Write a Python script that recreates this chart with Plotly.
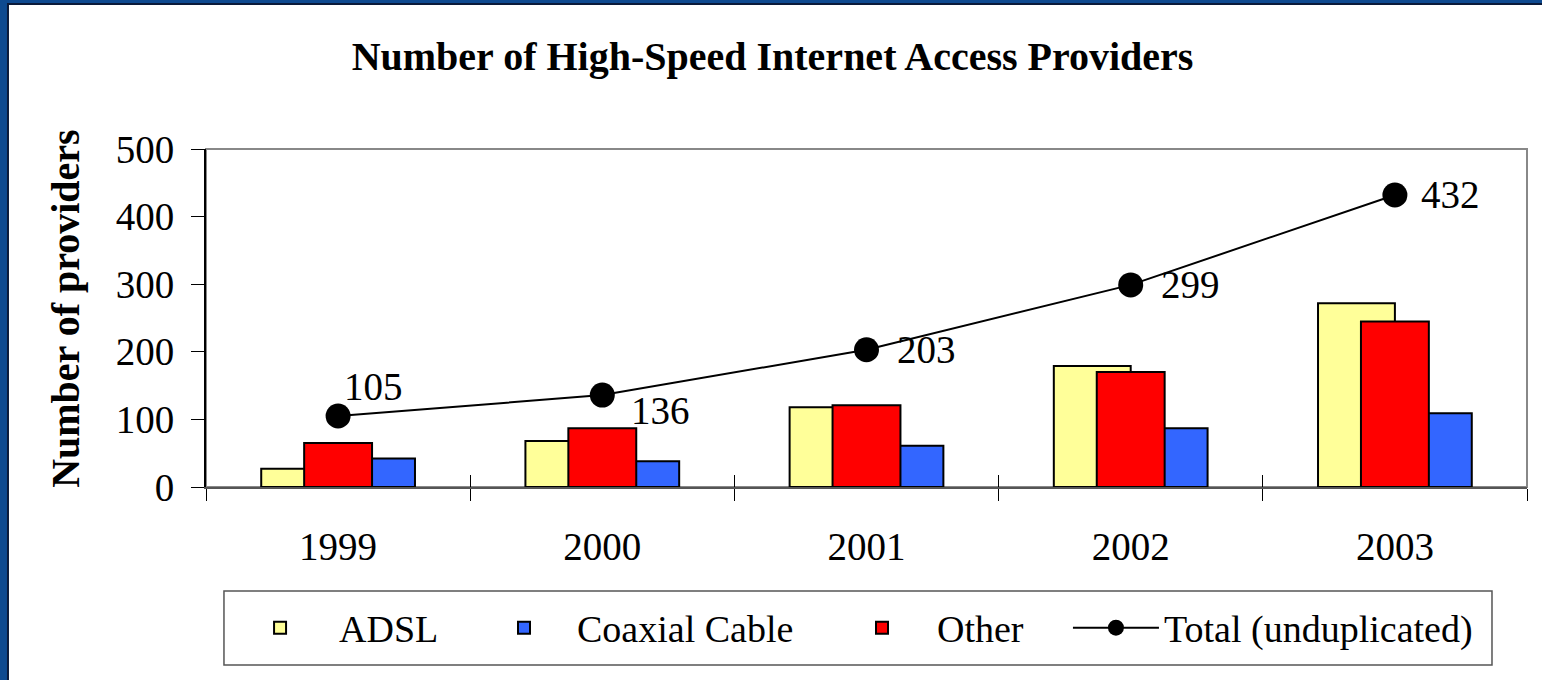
import plotly.graph_objects as go

years = ["1999", "2000", "2001", "2002", "2003"]
adsl = [27, 68, 118, 179, 272]
coax = [42, 38, 61, 87, 109]
other = [65, 87, 121, 170, 245]
total = [105, 136, 203, 299, 432]

# label offsets (px) for the total data labels
lab_dx = [35, 58, 60, 60, 56]
lab_dy = [30, -15, 0, 0, 0]

FONT = "Liberation Serif, Times New Roman, serif"
wide = 0.291
narrow = 0.257

fig = go.Figure()
fig.add_trace(go.Bar(x=years, y=adsl, name="ADSL", width=wide, offset=-wide, legend="legend",
                     marker=dict(color="#FFFF99", line=dict(color="black", width=2))))
fig.add_trace(go.Bar(x=years, y=coax, name="Coaxial Cable", width=wide, offset=0, legend="legend2",
                     marker=dict(color="#3366FF", line=dict(color="black", width=2))))
fig.add_trace(go.Bar(x=years, y=other, name="Other", width=narrow, offset=-narrow / 2, legend="legend3",
                     marker=dict(color="#FF0000", line=dict(color="black", width=2))))
fig.add_trace(go.Scatter(x=years, y=total, name="Total (unduplicated)", mode="lines+markers",
                         legend="legend4",
                         line=dict(color="black", width=2),
                         marker=dict(color="black", size=25)))

for i, (v, dx, dy) in enumerate(zip(total, lab_dx, lab_dy)):
    fig.add_annotation(x=i, y=v, xref="x", yref="y", text=str(v), showarrow=False,
                       xshift=dx, yshift=dy,
                       font=dict(family=FONT, size=39, color="black"))

# y-axis title
fig.add_annotation(xref="paper", yref="paper", x=-0.106, y=0.53, text="<b>Number of providers</b>",
                   textangle=-90, showarrow=False, xanchor="center", yanchor="middle",
                   font=dict(family=FONT, size=40, color="black"))

# slide white panel, plot border, legend box
fig.add_shape(type="rect", xref="paper", yref="paper", x0=-0.1499, x1=1.02, y0=-0.6, y1=1.429,
              fillcolor="white", line=dict(color="#0a1a3a", width=2), layer="below")
fig.add_shape(type="rect", xref="paper", yref="paper", x0=0, x1=1, y0=0, y1=1,
              fillcolor="rgba(0,0,0,0)", line=dict(color="#888888", width=2), layer="below")
fig.add_shape(type="rect", xref="paper", yref="paper", x0=0.0136, x1=0.9735, y0=-0.5266, y1=-0.3077,
              fillcolor="white", line=dict(color="#555555", width=1.5), layer="below")


def leg(x, w):
    return dict(orientation="h", x=x, y=-0.417, xanchor="left", yanchor="middle",
                bgcolor="rgba(0,0,0,0)", borderwidth=0, itemwidth=w,
                font=dict(family=FONT, size=38, color="black"))


nb = len(years)
fig.update_layout(
    width=1542, height=680,
    margin=dict(l=206, r=15, t=149, b=193),
    paper_bgcolor="#0e4a90", plot_bgcolor="white",
    barmode="overlay",
    font=dict(family=FONT, size=39, color="black"),
    title=dict(text="<b>Number of High-Speed Internet Access Providers</b>",
               x=0.501, xref="container", xanchor="center",
               y=0.917, yref="container", yanchor="middle",
               font=dict(family=FONT, size=40, color="black")),
    xaxis=dict(type="category", range=[-0.5, nb - 0.5], tickson="boundaries",
               ticks="outside", ticklen=12, tickwidth=1, tickcolor="black",
               showline=True, linecolor="#555555", linewidth=2,
               showgrid=False, ticklabelstandoff=24,
               tickfont=dict(family=FONT, size=39, color="black")),
    xaxis2=dict(overlaying="x", anchor="y", side="bottom", range=[-0.5, nb - 0.5],
                tickmode="array", tickvals=[i - 0.5 for i in range(nb + 1)],
                ticks="inside", ticklen=12, tickwidth=1, tickcolor="black",
                showticklabels=False, showgrid=False, zeroline=False, showline=False),
    yaxis=dict(range=[0, 500], dtick=100, ticks="outside", ticklen=13, tickwidth=1,
               tickcolor="black", showline=True, linecolor="black", linewidth=2,
               showgrid=False, zeroline=False, ticklabelstandoff=9,
               tickfont=dict(family=FONT, size=39, color="black")),
    legend=leg(0.0114, 108),
    legend2=leg(0.2006, 96),
    legend3=leg(0.4701, 100),
    legend4=leg(0.6525, 86),
    showlegend=True,
)
# invisible helper trace so xaxis2 (inner half of the crossing ticks) renders
fig.add_trace(go.Scatter(x=[0], y=[0], xaxis="x2", mode="markers", marker=dict(opacity=0),
                         showlegend=False, hoverinfo="skip"))

fig.write_html("out.html", config={"displayModeBar": False},
               post_script="document.body.style.margin='0';")
